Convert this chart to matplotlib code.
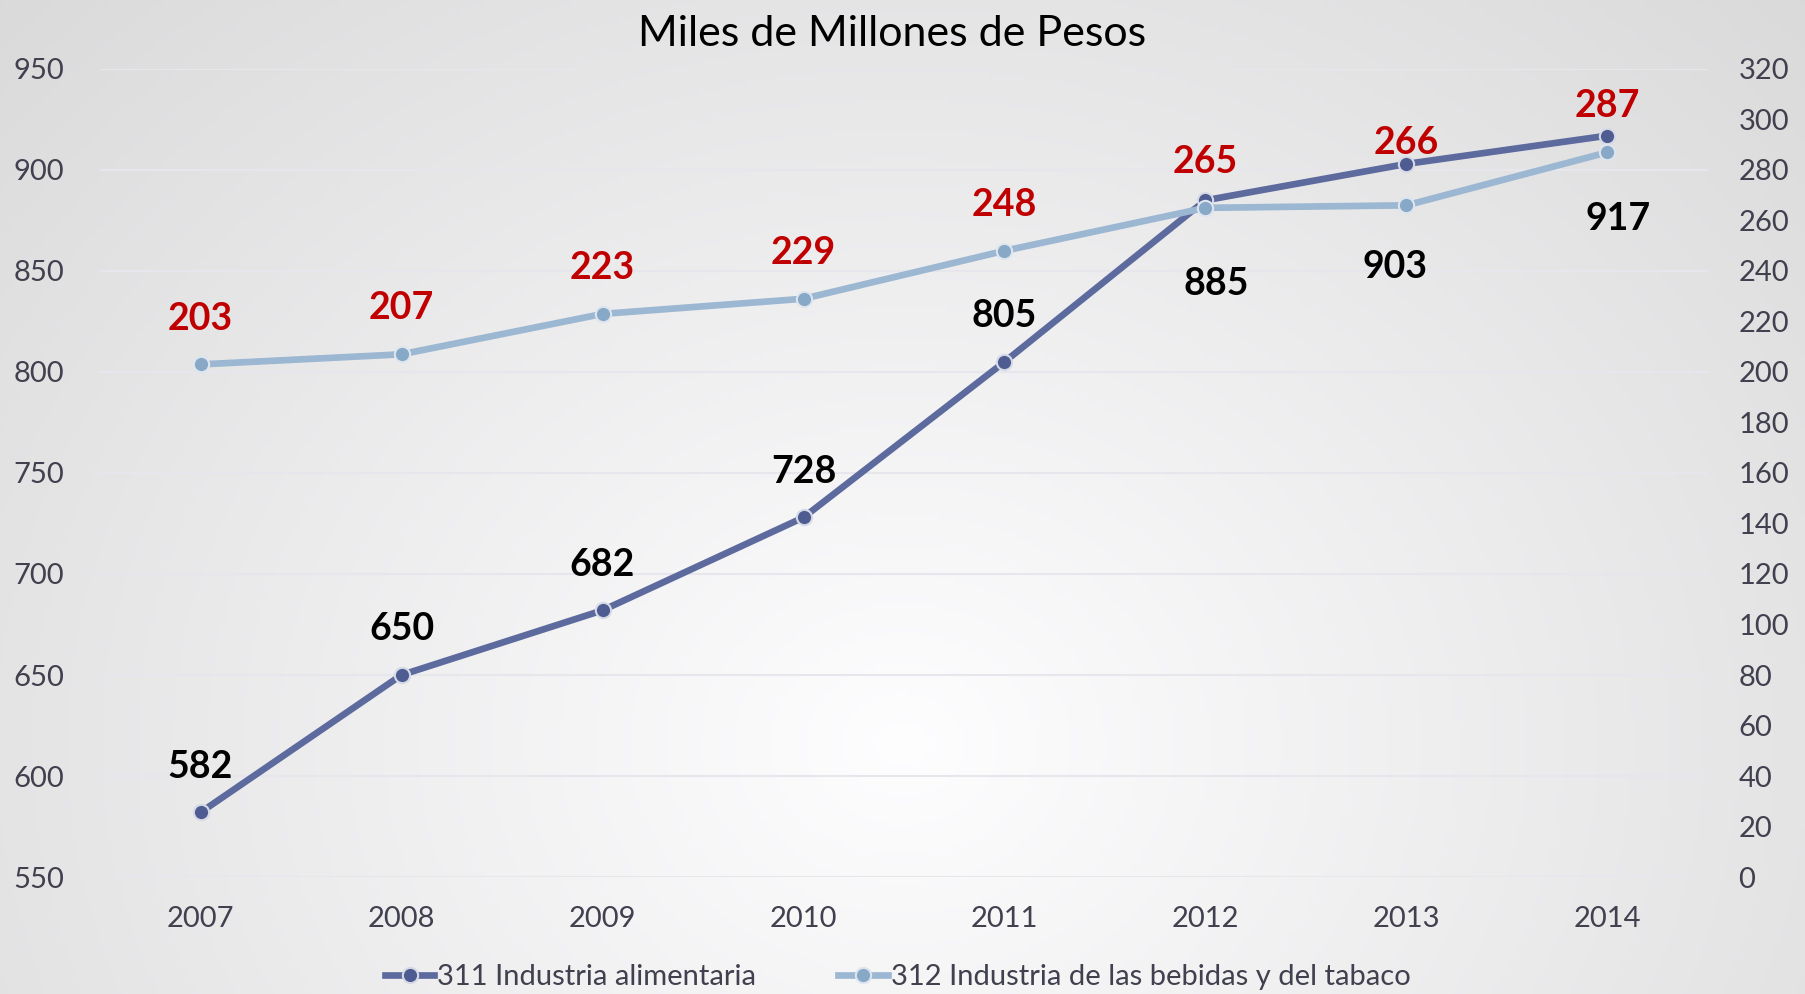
import matplotlib
matplotlib.use("Agg")
import matplotlib.pyplot as plt
import numpy as np

plt.rcParams['font.family'] = ['Lato', 'DejaVu Sans']

# data
years = ['2007', '2008', '2009', '2010', '2011', '2012', '2013', '2014']
alimentaria = [582, 650, 682, 728, 805, 885, 903, 917]      # left axis
bebidas = [203, 207, 223, 229, 248, 265, 266, 287]          # right axis
name_311 = '311 Industria alimentaria'
name_312 = '312 Industria de las bebidas y del tabaco'
left_ticks = [550, 600, 650, 700, 750, 800, 850, 900, 950]
right_ticks = list(range(0, 321, 20))

c311 = '#5C6A9E'
c311_mk = '#4E5C92'
c312 = '#9BB7D1'
c312_mk = '#87A8C6'
tick_col = '#40404E'

fig = plt.figure(figsize=(18.06, 9.94), dpi=100)

# radial-ish gray background, lighter in lower centre
bg = fig.add_axes([0, 0, 1, 1], zorder=-10)
gx, gy = np.meshgrid(np.linspace(0, 1, 400), np.linspace(0, 1, 220))
r = np.sqrt(((gx - 0.5) / 0.62) ** 2 + ((gy - 0.25) / 0.95) ** 2)
shade = 1 - 0.15 * np.clip(r, 0, 1.2) / 1.2
img = np.dstack([shade * 0.995, shade * 0.995, shade]).clip(0, 1)
bg.imshow(img, extent=[0, 1, 0, 1], origin='lower', aspect='auto')
bg.axis('off')

ax = fig.add_axes([0.0554, 0.1177, 0.8903, 0.8129])
ax.patch.set_alpha(0)
ax2 = ax.twinx()
ax2.patch.set_alpha(0)

x = np.arange(len(years))

l1, = ax.plot(x, alimentaria, color=c311, lw=4.8, marker='o', ms=11,
              mfc=c311_mk, mec='#D5DAE6', mew=1.5, zorder=5, label=name_311)
l2, = ax2.plot(x, bebidas, color=c312, lw=4.8, marker='o', ms=11,
               mfc=c312_mk, mec='#DDE5EE', mew=1.5, zorder=4, label=name_312)

ax.set_xlim(-0.5, len(years) - 0.5)
ax.set_ylim(550, 950)
ax2.set_ylim(0, 320)
ax.set_yticks(left_ticks)
ax2.set_yticks(right_ticks)
ax.set_xticks(x)
ax.set_xticklabels(years)

for a in (ax, ax2):
    for s in a.spines.values():
        s.set_visible(False)
    a.tick_params(length=0, labelsize=21, labelcolor=tick_col)
ax.tick_params(axis='y', pad=26)
ax2.tick_params(axis='y', pad=22)
ax.tick_params(axis='x', pad=21)
ax.grid(axis='y', color='#E6E6EC', lw=1.5)
ax.set_axisbelow(True)

# data labels (offsets in points)
off311 = [(0, 33), (0, 33), (0, 33), (0, 33), (0, 33), (8, -60), (-8, -74), (8, -60)]
off312 = [33, 33, 33, 33, 33, 33, 45, 33]
for xi, v, (dx, dy) in zip(x, alimentaria, off311):
    ax.annotate(str(v), (xi, v), xytext=(dx, dy), textcoords='offset points',
                ha='center', va='center', fontsize=27, fontweight='bold',
                color='black', zorder=10)
for xi, v, dy in zip(x, bebidas, off312):
    ax2.annotate(str(v), (xi, v), xytext=(0, dy), textcoords='offset points',
                 ha='center', va='center', fontsize=27, fontweight='bold',
                 color='#C00000', zorder=10)

fig.text(0.494, 0.966, 'Miles de Millones de Pesos', ha='center', va='center',
         fontsize=31, color='black')

fig.legend(handles=[l1, l2], loc='center', bbox_to_anchor=(0.497, 0.017), ncol=2,
           frameon=False, fontsize=21, labelcolor=tick_col, handlelength=1.7,
           handletextpad=0.1, columnspacing=2.8)

fig.savefig('out.png', dpi=100)
